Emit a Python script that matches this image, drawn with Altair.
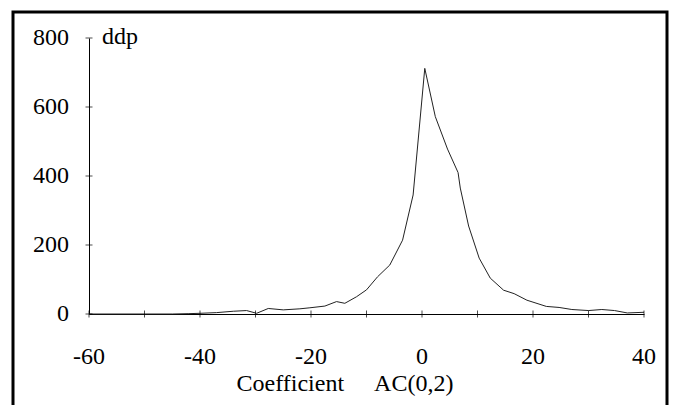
import altair as alt
import pandas as pd

# Curve
coef = [-60, -45, -42, -40, -37, -34, -31.6, -29.8, -27.7, -25, -22, -20.2, -17.5,
        -15.4, -13.9, -11.8, -10, -8, -5.8, -3.5, -1.6, 0.5, 2.4, 4.6, 6.5, 6.9,
        8.4, 10.3, 12.3, 14.7, 16.6, 18.9, 22.4, 24.7, 27, 30, 32.4, 34.7, 37, 40]
ddp = [0, 0, 1, 2, 4, 8, 10, 2, 16, 12, 15, 18, 23,
       36, 31, 50, 70, 108, 142, 214, 345, 712, 572, 478, 410, 365,
       255, 162, 104, 69, 59, 40, 22, 19, 13, 10, 13, 10, 3, 5]

x_ticks = list(range(-60, 41, 10))
x_labels = [-60, -40, -20, 0, 20, 40]
y_ticks = [0, 200, 400, 600, 800]
x_title = "Coefficient\u00a0\u00a0\u00a0\u00a0\u00a0AC(0,2)"
y_title = "ddp"

FONT = "serif"
FS = 24

df = pd.DataFrame({"coef": coef, "ddp": ddp})
df_xt = pd.DataFrame({"coef": x_ticks, "ddp": [0] * len(x_ticks)})
df_yt = pd.DataFrame({"coef": [-60] * len(y_ticks), "ddp": y_ticks})
df_xl = pd.DataFrame({"coef": x_labels, "ddp": [0] * len(x_labels),
                      "lab": [str(v) for v in x_labels]})
df_yl = pd.DataFrame({"coef": [-60] * len(y_ticks), "ddp": y_ticks,
                      "lab": [str(v) for v in y_ticks]})
df_yt_title = pd.DataFrame({"coef": [-60], "ddp": [800], "lab": [y_title]})
df_xt_title = pd.DataFrame({"lab": [x_title]})

xscale = alt.Scale(domain=[-60, 40], nice=False, zero=False)
yscale = alt.Scale(domain=[0, 800], nice=False)

x_axis = alt.Axis(values=x_labels, ticks=False, grid=False, labels=False, title=None,
                  domainColor="black", domainWidth=1)
y_axis = alt.Axis(values=y_ticks, ticks=False, grid=False, labels=False, title=None,
                  domainColor="black", domainWidth=1)

x_enc = alt.X("coef:Q", scale=xscale, axis=x_axis)
y_enc = alt.Y("ddp:Q", scale=yscale, axis=y_axis)

line = alt.Chart(df).mark_line(color="#222222", strokeWidth=1).encode(x=x_enc, y=y_enc)

xt = alt.Chart(df_xt).mark_tick(orient="vertical", size=7, thickness=1, color="black").encode(
    x=x_enc, y=y_enc)
yt = alt.Chart(df_yt).mark_tick(orient="horizontal", size=7, thickness=1, color="black").encode(
    x=x_enc, y=y_enc)

xl = alt.Chart(df_xl).mark_text(font=FONT, fontSize=FS, color="black",
                                align="center", baseline="alphabetic", dy=50).encode(
    x=x_enc, y=y_enc, text="lab:N")
yl = alt.Chart(df_yl).mark_text(font=FONT, fontSize=FS, color="black",
                                align="right", baseline="alphabetic", dx=-20, dy=7).encode(
    x=x_enc, y=y_enc, text="lab:N")
ytitle = alt.Chart(df_yt_title).mark_text(font=FONT, fontSize=FS, color="black",
                                          align="left", baseline="alphabetic", dx=13, dy=6).encode(
    x=x_enc, y=y_enc, text="lab:N")
xtitle = alt.Chart(df_xt_title).mark_text(font=FONT, fontSize=FS, color="black",
                                          align="center", baseline="alphabetic").encode(
    x=alt.value(256), y=alt.value(353), text="lab:N")

frame = alt.Chart(df.head(1)).mark_rect(fill=None, stroke="black", strokeWidth=3, clip=False).encode(
    x=alt.value(-76), x2=alt.value(578), y=alt.value(-26), y2=alt.value(380))

chart = alt.layer(line, xt, yt, xl, yl, ytitle, xtitle, frame).properties(
    width=555, height=276,
    autosize=alt.AutoSizeParams(type="none"),
    padding={"left": 89, "top": 38, "right": 29, "bottom": 91},
).configure_view(stroke=None)

chart.save("out.html", embed_options={"renderer": "svg", "actions": False})
